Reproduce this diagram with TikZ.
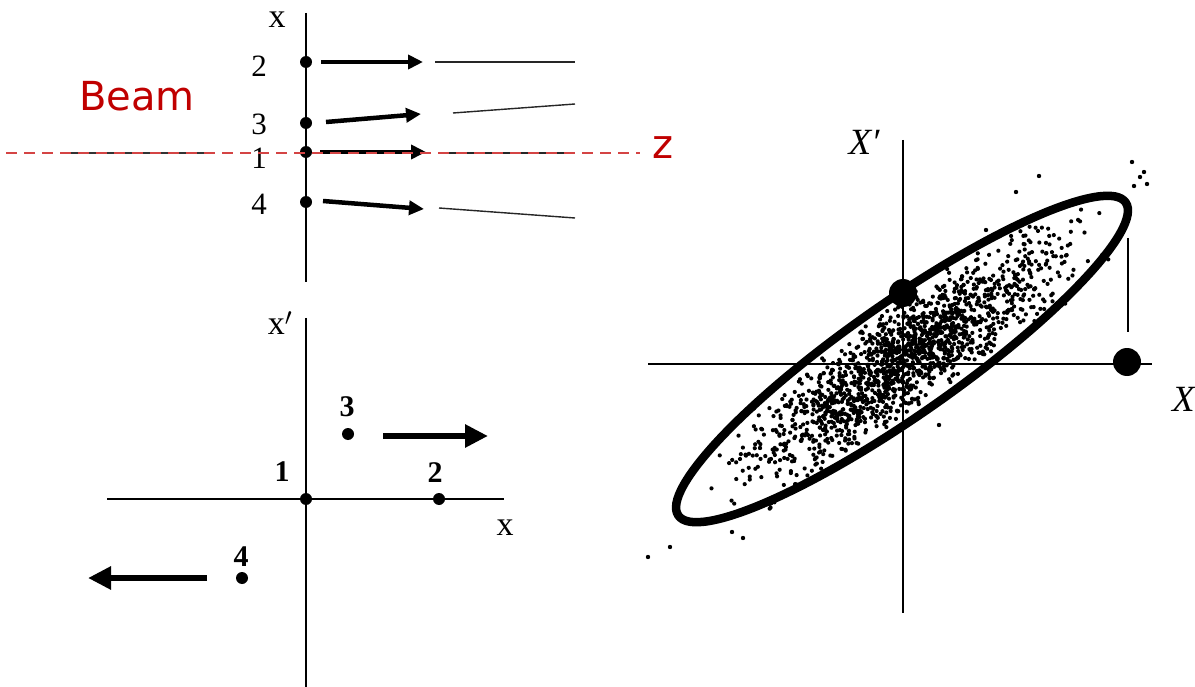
\documentclass[tikz,border=0pt]{standalone}
\usepackage{fontspec}
\setmainfont{Liberation Serif}
\newfontfamily\sansf{DejaVu Sans}
\usetikzlibrary{arrows.meta}
\definecolor{beamred}{RGB}{192,0,0}
\definecolor{dashred}{RGB}{212,68,68}
\begin{document}
\begin{tikzpicture}[x=1pt,y=-1pt,
  axis/.style={line width=2.4pt},
  axisR/.style={line width=2.9pt},
  pt/.style={circle,fill,inner sep=0pt,minimum size=12pt},
  bigpt/.style={circle,fill,inner sep=0pt,minimum size=28pt},
  lab/.style={font=\fontsize{31}{31}\selectfont,inner sep=0pt},
  blab/.style={font=\fontsize{30}{30}\selectfont\bfseries,inner sep=0pt},
  xlab/.style={font=\fontsize{34}{34}\selectfont,inner sep=0pt},
  Xlab/.style={font=\fontsize{37}{37}\selectfont\itshape,inner sep=0pt},
  redlab/.style={font=\fontsize{40}{40}\selectfont\sansf,text=beamred,inner sep=0pt},
  ray/.style={line width=4.5pt,-{Triangle[length=15pt,width=14pt]}},
  bigray/.style={line width=6pt,-{Triangle[length=23pt,width=22pt]}},
  trace/.style={line width=1.4pt,black!85},
  beamline/.style={line width=2.8pt,dashred,dash pattern=on 11pt off 7pt}
]
\useasboundingbox (0,0) rectangle (1195,687);
\fill[white] (0,0) rectangle (1195,687);

% ---------------- top-left: trajectories ----------------
\coordinate (ta0) at (306,13);
\coordinate (ta1) at (306,282);
\draw[axis] (ta0) -- (ta1);
\node[xlab] (tx) at (277,20) {x};

\node[pt] (p2) at (306,62) {};
\node[pt] (p3) at (306,123) {};
\node[pt] (p1) at (306,152) {};
\node[pt] (p4) at (306,202) {};
\node[lab] (l2) at (259,66) {2};
\node[lab] (l3) at (259,124) {3};
\node[lab] (l1) at (259,158) {1};
\node[lab] (l4) at (259,204) {4};

\coordinate (a2s) at (321,62);  \coordinate (a2e) at (423,62);
\coordinate (a3s) at (326,122); \coordinate (a3e) at (421,114);
\coordinate (a1s) at (320,152); \coordinate (a1e) at (426,152);
\coordinate (a4s) at (323,201); \coordinate (a4e) at (424,209);
\draw[ray] (a2s) -- (a2e);
\draw[ray] (a3s) -- (a3e);
\draw[ray] (a1s) -- (a1e);
\draw[ray] (a4s) -- (a4e);

\coordinate (t2s) at (435,62);  \coordinate (t2e) at (575,62);
\coordinate (t3s) at (453,113); \coordinate (t3e) at (575,104);
\coordinate (t1s) at (440,153); \coordinate (t1e) at (575,153);
\coordinate (t0s) at (66,153);  \coordinate (t0e) at (210,153);
\coordinate (t4s) at (439,208); \coordinate (t4e) at (575,218);
\draw[trace] (t2s) -- (t2e);
\draw[trace] (t3s) -- (t3e);
\draw[trace] (t1s) -- (t1e);
\draw[line width=2.8pt,black!80] (t0s) -- (t0e);
\draw[trace] (t4s) -- (t4e);

\coordinate (bs) at (6,153);
\coordinate (be) at (640,153);
\draw[beamline] (bs) -- (be);
\node[redlab] (beam) at (137,96) {Beam};
\node[redlab] (zlab) at (663,148) {z};

% ---------------- bottom-left: phase space points ----------------
\coordinate (va0) at (306,318);
\coordinate (va1) at (306,687);
\coordinate (ha0) at (107,499);
\coordinate (ha1) at (504,499);
\draw[axis] (va0) -- (va1);
\draw[axis] (ha0) -- (ha1);
\node[xlab] (bxp) at (280,323) {x$'$};
\node[xlab] (bx) at (505,528) {x};

\node[pt] (q1) at (306,499) {};
\node[pt] (q2) at (439,499) {};
\node[pt] (q3) at (348,434) {};
\node[pt] (q4) at (242,578) {};
\node[blab] (m1) at (282,472) {1};
\node[blab] (m2) at (435,473) {2};
\node[blab] (m3) at (347,407) {3};
\node[blab] (m4) at (241,557) {4};

\coordinate (r1s) at (383,436); \coordinate (r1e) at (488,436);
\coordinate (r2s) at (207,578); \coordinate (r2e) at (88,578);
\draw[bigray] (r1s) -- (r1e);
\draw[bigray] (r2s) -- (r2e);

% ---------------- right: emittance ellipse ----------------
\coordinate (ya0) at (903,140);
\coordinate (ya1) at (903,613);
\coordinate (xa0) at (648,364);
\coordinate (xa1) at (1152,364);
\draw[axisR] (ya0) -- (ya1);
\draw[axisR] (xa0) -- (xa1);
\node[Xlab] (Xp) at (864,142) {X′};
\node[Xlab,anchor=west] (X) at (1172,399) {X};

\pgfmathsetseed{11}
\begin{scope}[shift={(902,359)},rotate=35]
  \foreach \i in {1,...,1650}{
    \pgfmathsetmacro\u{(rand+rand+rand)*88}
    \pgfmathsetmacro\v{(rand+rand)*25}
    \fill (\u,\v) circle[radius=2.1pt];
  }
\end{scope}
% outliers
\foreach \p in {(1132,162),(1144,172),(1147,184),(1134,186),(1140,177),(648,557),(670,547),(732,532),(743,538),(939,425),(885,422),(1016,192),(986,230),(710,520),(760,448),(1039,176),(965,318)}{
  \fill \p circle[radius=2.2pt];
}

\draw[line width=8.5pt,rotate around={35:(902,359)}] (902,359) ellipse[x radius=273pt,y radius=56pt];

\node[bigpt] (dtop) at (903,293) {};
\node[bigpt] (dx) at (1127,362) {};
\coordinate (vl0) at (1128,238);
\coordinate (vl1) at (1128,332);
\draw[line width=2.7pt] (vl0) -- (vl1);
\end{tikzpicture}
\end{document}
